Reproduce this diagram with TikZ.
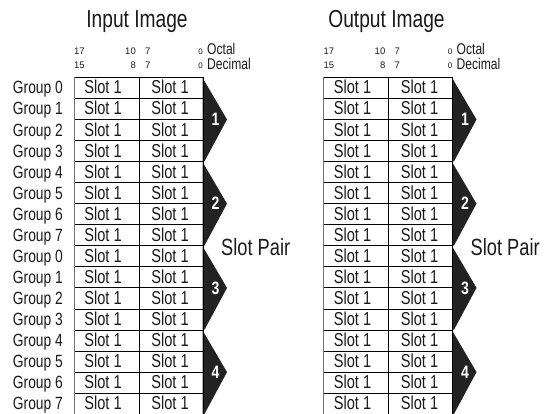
\documentclass[tikz,border=0pt]{standalone}
\usepackage{fontspec}
\setmainfont{Liberation Sans}
\newfontfamily\condf{Liberation Sans}[FakeStretch=0.78]
\definecolor{txtc}{HTML}{1A1A1A}
\definecolor{arrc}{HTML}{222222}
\tikzset{
  slottxt/.style={font=\condf\fontsize{18.7}{18.7}\selectfont, text=txtc, anchor=base, inner sep=0pt},
  grptxt/.style={font=\condf\fontsize{17.7}{17.7}\selectfont, text=txtc, anchor=base east, inner sep=0pt},
  ttltxt/.style={font=\condf\fontsize{24.6}{24.6}\selectfont, text=txtc, anchor=base, inner sep=0pt},
  bittxt/.style={font=\fontsize{9.5}{9.5}\selectfont, text=txtc, inner sep=0pt},
  zerotxt/.style={font=\fontsize{8}{8}\selectfont, text=txtc, inner sep=0pt, anchor=base east},
  radixtxt/.style={font=\condf\fontsize{15.5}{15.5}\selectfont, text=txtc, anchor=base west, inner sep=0pt},
  numtxt/.style={font=\condf\bfseries\fontsize{18}{18}\selectfont, text=white, inner sep=0pt},
  pairtxt/.style={font=\condf\fontsize{23.4}{23.4}\selectfont, text=txtc, anchor=base west, inner sep=0pt},
  rowline/.style={draw=black, line width=0.9pt},
  leftline/.style={draw=black!55, line width=1pt},
  midline/.style={draw=black, line width=0.9pt},
  arrowfill/.style={fill=arrc},
}
\begin{document}
\begin{tikzpicture}[x=1pt,y=-1pt]
\useasboundingbox (0,0) rectangle (545,414);
\clip (0,0) rectangle (545,414);
\def\rh{21.05}
\def\ytop{77.4}
\foreach \ox/\nm/\ttl in {0/in/{Input Image}, 249.5/out/{Output Image}}{
  % title
  \node[ttltxt] (\nm-title) at (\ox+137,28) {\ttl};
  % bit numbers
  \node[bittxt, anchor=base west] (\nm-b17) at (\ox+74,54.5) {17};
  \node[bittxt, anchor=base west] (\nm-b15) at (\ox+74,69) {15};
  \node[bittxt, anchor=base east] (\nm-b10) at (\ox+136,54.5) {10};
  \node[bittxt, anchor=base east] (\nm-b8) at (\ox+136,69) {8};
  \node[bittxt, anchor=base west] (\nm-b7a) at (\ox+145,54.5) {7};
  \node[bittxt, anchor=base west] (\nm-b7b) at (\ox+145,69) {7};
  \node[zerotxt] (\nm-b0a) at (\ox+203,54.5) {0};
  \node[zerotxt] (\nm-b0b) at (\ox+203,69) {0};
  \node[radixtxt] (\nm-oct) at (\ox+207,55) {Octal};
  \node[radixtxt] (\nm-dec) at (\ox+207,70) {Decimal};
  % arrows
  \foreach \a in {0,1,2,3}{
    \pgfmathsetmacro\at{\ytop+4*\a*\rh}
    \pgfmathsetmacro\ab{\at+4*\rh}
    \pgfmathsetmacro\am{\at+2*\rh}
    \fill[arrowfill] (\ox+202.5,\at+0.3) -- (\ox+227,\am) -- (\ox+204.5,\ab-0.3) -- (\ox+202.5,\ab-0.3) -- cycle;
    \pgfmathtruncatemacro\an{\a+1}
    \node[numtxt] (\nm-arr\an) at (\ox+215.5,\am) {\an};
  }
  % rows
  \foreach \k in {0,...,15}{
    \pgfmathsetmacro\yk{\ytop+\k*\rh}
    \pgfmathsetmacro\yb{\yk+0.5*\rh+6}
    \draw[rowline] (\ox+74,\yk) -- (\ox+203,\yk);
    \node[slottxt] (\nm-s\k a) at (\ox+103,\yb) {Slot 1};
    \node[slottxt] (\nm-s\k b) at (\ox+170,\yb) {Slot 1};
  }
  \draw[leftline] (\ox+74,\ytop) -- (\ox+74,420);
  \draw[midline] (\ox+139,\ytop) -- (\ox+139,420);
  \draw[midline] (\ox+203,\ytop) -- (\ox+203,420);
  \node[pairtxt] (\nm-pair) at (\ox+221,255) {Slot Pair};
}
% group labels
\foreach \k in {0,...,15}{
  \pgfmathtruncatemacro\g{mod(\k,8)}
  \pgfmathsetmacro\yb{\ytop+(\k+0.5)*\rh+6}
  \node[grptxt] (grp\k) at (63,\yb) {Group \g};
}
\end{tikzpicture}
\end{document}
